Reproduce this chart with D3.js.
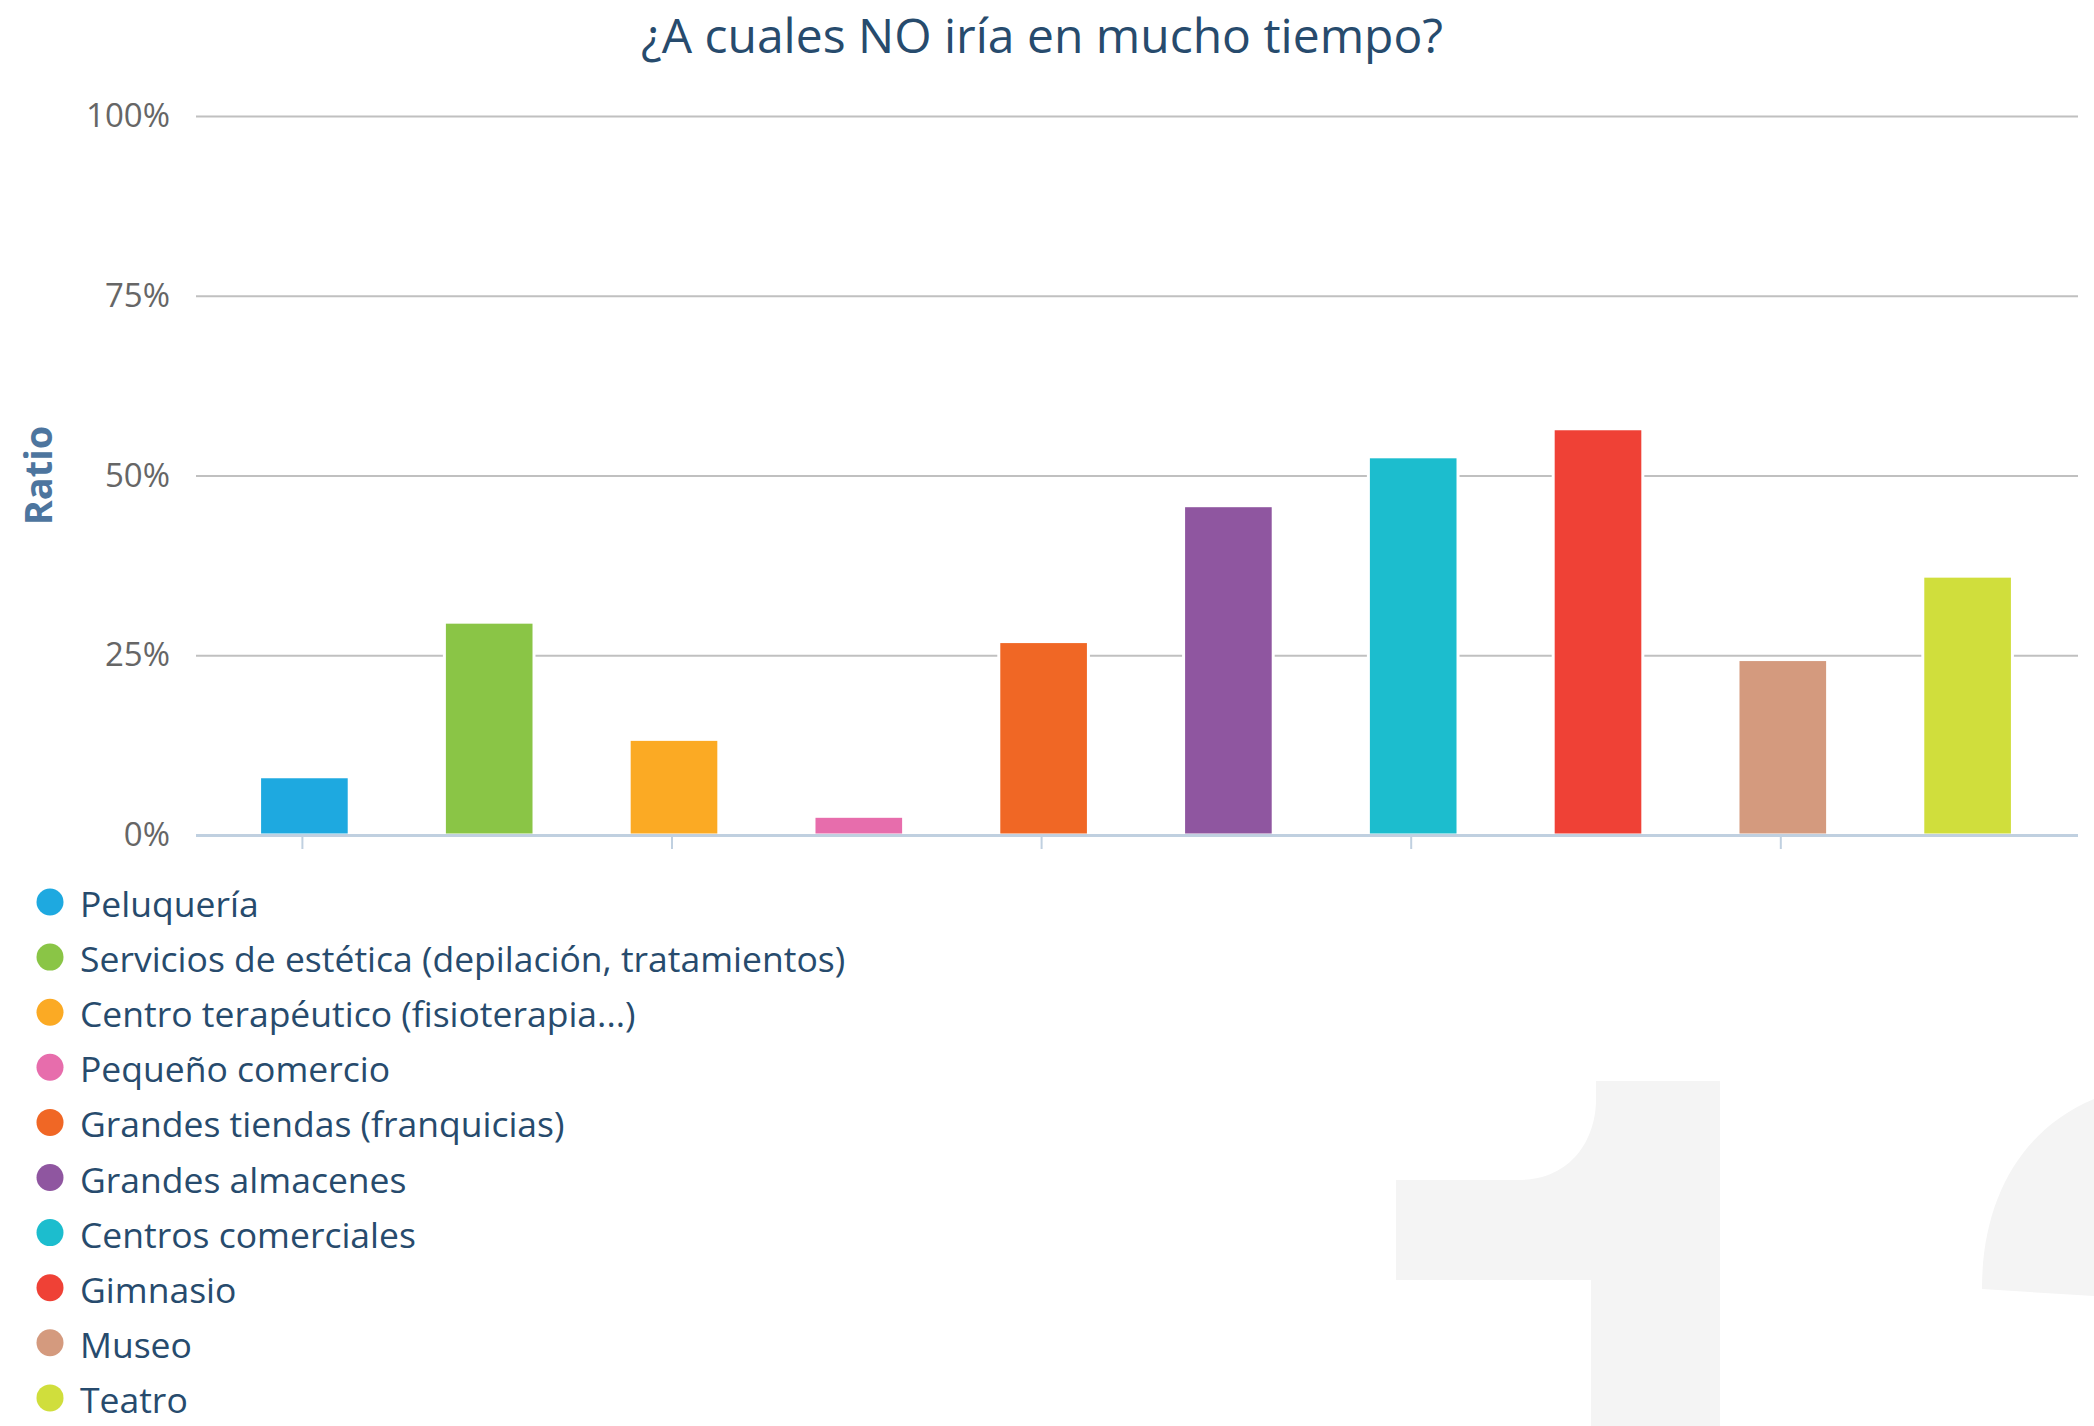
<!DOCTYPE html>
<html>
<head>
<meta charset="utf-8">
<script src="https://cdn.jsdelivr.net/npm/d3@7"></script>
<style>
  body { margin: 0; background: #fff; }
  text { font-family: "Open Sans", "Noto Sans", sans-serif; }
</style>
</head>
<body>
<div id="chart"></div>
<script>
// bar chart: ¿A cuales NO iría en mucho tiempo?

const categories = ["Peluquería", "Servicios de estética (depilación, tratamientos)", "Centro terapéutico (fisioterapia...)",
    "Pequeño comercio", "Grandes tiendas (franquicias)", "Grandes almacenes", "Centros comerciales",
    "Gimnasio", "Museo", "Teatro"]
const ratios = [8.1, 29.6, 13.3, 2.6, 26.9, 45.8, 52.6, 56.5, 24.4, 36.0]
const colors = ["#1ea9e0", "#8ac546", "#fbaa24", "#e76dac", "#f06725", "#8f56a0", "#1cbdce", "#ef4136", "#d49a7e", "#d0de3c"]
const yTicks = [0, 25, 50, 75, 100]

function renderBarChart(frame_id) {
    let width = 2094
    let height = 1426
    let plotLeft = 196, plotRight = 2078
    let plotTop = 116, plotBottom = 835

    var svg = d3.select("#" + frame_id)
        .append("svg")
        .attr("width", width)
        .attr("height", height)

    // watermark
    var wm = d3.path()
    wm.moveTo(1596, 1081); wm.lineTo(1720, 1081); wm.lineTo(1720, 1426); wm.lineTo(1591, 1426)
    wm.lineTo(1591, 1280); wm.lineTo(1396, 1280); wm.lineTo(1396, 1180); wm.lineTo(1518, 1180)
    wm.bezierCurveTo(1575, 1180, 1596, 1135, 1596, 1100); wm.closePath()
    wm.moveTo(1982, 1289)
    wm.bezierCurveTo(1982, 1200, 2020, 1130, 2094, 1099)
    wm.lineTo(2094, 1296); wm.closePath()
    svg.append("path").attr("d", wm.toString()).attr("fill", "#f4f4f4")

    var x = d3.scaleBand()
        .domain(categories)
        .range([212, 2060])
        .paddingInner(0.515)
        .paddingOuter(0.2575)

    var y = d3.scaleLinear()
        .domain([0, 100])
        .range([plotBottom, plotTop])

    // y axis + grid
    var yAxis = svg.append("g")
        .attr("transform", "translate(" + plotLeft + ",0)")
        .call(d3.axisLeft(y).tickValues(yTicks).tickFormat(function (d) { return d + "%" })
            .tickSizeInner(-(plotRight - plotLeft)).tickSizeOuter(0).tickPadding(26))
    yAxis.select(".domain").remove()
    yAxis.selectAll(".tick line").attr("stroke", "#c0c0c0").attr("stroke-width", 2)
    yAxis.selectAll(".tick text")
        .attr("fill", "#666")
        .style("font-size", "33px")
        .style("font-family", "'Open Sans', sans-serif")

    svg.append("text")
        .attr("transform", "translate(52," + (plotTop + plotBottom) / 2 + ") rotate(-90)")
        .attr("text-anchor", "middle")
        .attr("fill", "#4d759e")
        .style("font-size", "38px")
        .style("font-weight", "bold")
        .text("Ratio")

    // bars
    svg.selectAll("bars")
        .data(categories)
        .enter()
        .append("rect")
        .attr("x", function (d) { return x(d) })
        .attr("y", function (d, i) { return y(ratios[i]) })
        .attr("width", x.bandwidth())
        .attr("height", function (d, i) { return plotBottom - y(ratios[i]) })
        .attr("fill", function (d, i) { return colors[i] })
        .attr("stroke", "#fff")
        .attr("stroke-width", 3)

    // x axis line and ticks (every other category)
    svg.append("line")
        .attr("x1", plotLeft).attr("x2", plotRight)
        .attr("y1", plotBottom + 0.5).attr("y2", plotBottom + 0.5)
        .attr("stroke", "#c0d0e0").attr("stroke-width", 3)
    svg.selectAll("xticks")
        .data(categories.filter(function (d, i) { return i % 2 == 0 }))
        .enter()
        .append("line")
        .attr("x1", function (d) { return x(d) + x.bandwidth() / 2 - 2 })
        .attr("x2", function (d) { return x(d) + x.bandwidth() / 2 - 2 })
        .attr("y1", plotBottom + 2).attr("y2", plotBottom + 14)
        .attr("stroke", "#c0d0e0").attr("stroke-width", 2)

    // title
    svg.append("text")
        .attr("x", 1042).attr("y", 53)
        .attr("text-anchor", "middle")
        .attr("fill", "#274b6d")
        .style("font-size", "48px")
        .text("¿A cuales NO iría en mucho tiempo?")

    // legend
    var legend = svg.selectAll("legend")
        .data(categories)
        .enter()
        .append("g")
        .attr("transform", function (d, i) { return "translate(50," + (902 + i * 55.1) + ")" })
    legend.append("circle")
        .attr("r", 13.5)
        .attr("fill", function (d, i) { return colors[i] })
    legend.append("text")
        .attr("x", 30).attr("y", 15)
        .attr("fill", "#274b6d")
        .style("font-size", "35.5px")
        .text(function (d) { return d })
}

document.addEventListener('DOMContentLoaded', function () { renderBarChart("chart") }, false);
</script>
</body>
</html>
